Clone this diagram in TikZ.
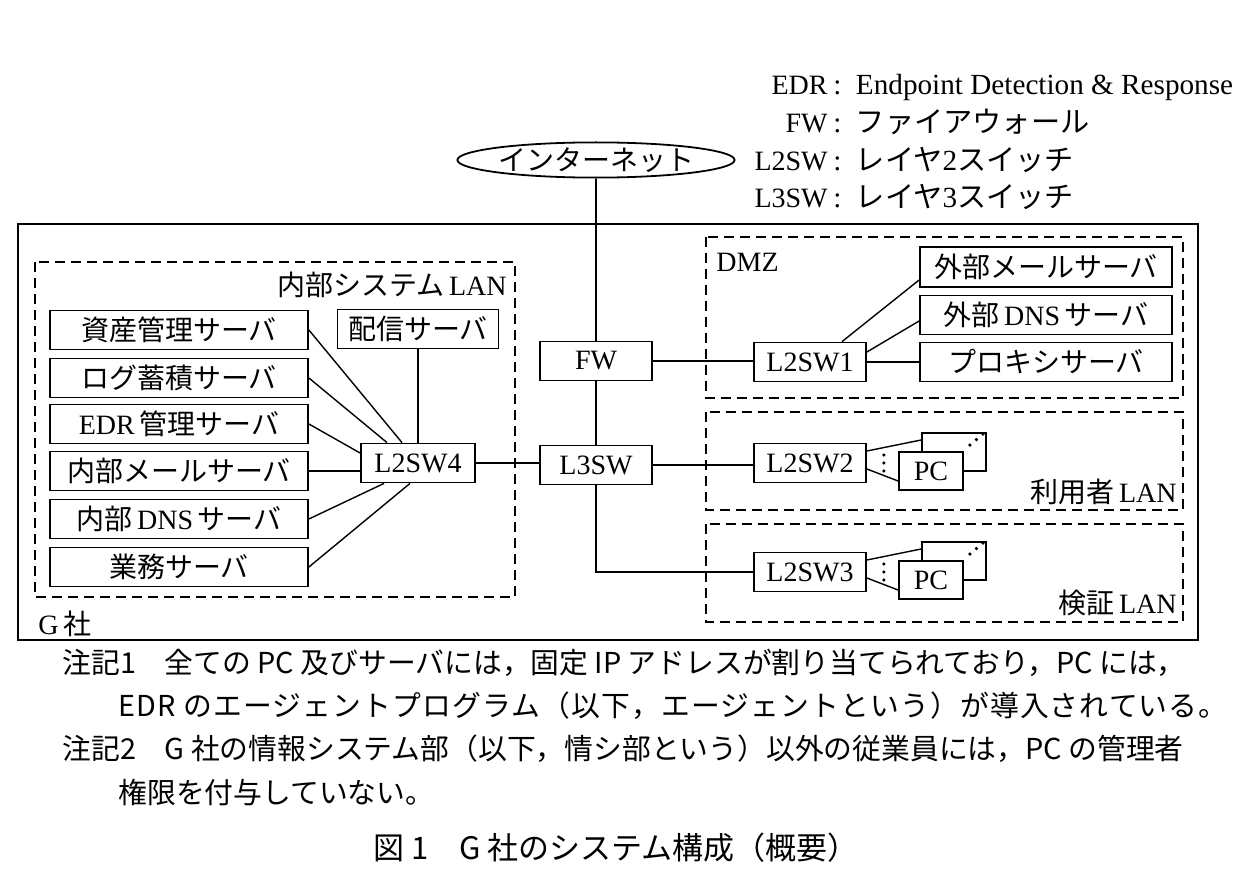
\documentclass[tikz,border=0pt]{standalone}
\usepackage{fontspec}
\setmainfont{Liberation Serif}
\newfontfamily\jpfont{Noto Sans CJK JP}
\usetikzlibrary{positioning,calc,shapes.geometric}
\newcommand{\ja}[1]{{\jpfont #1}}
\tikzset{
  devbox/.style = {draw, line width=0.9pt, fill=white, minimum width=56pt,
                   minimum height=19.5pt, inner sep=0pt},
  srvbox/.style = {devbox, minimum width=129pt},
  pcbox/.style  = {devbox, minimum width=32pt, minimum height=19pt},
  lanbox/.style = {line width=0.9pt, dash pattern=on 5pt off 3pt},
  link/.style   = {line width=0.7pt},
  dotpt/.style  = {fill, circle, inner sep=0pt, minimum size=1.8pt},
  legkey/.style = {anchor=base east, inner sep=0pt},
  legtxt/.style = {anchor=base west, inner sep=0pt, font=\fontsize{14.6}{16}\selectfont},
  note/.style   = {anchor=west, inner sep=0pt, font=\jpfont\fontsize{14.4}{16}\selectfont},
}

\begin{document}
\begin{tikzpicture}[x=0.5pt,y=-0.5pt,font=\fontsize{14}{16}\selectfont]
\useasboundingbox (0,0) rectangle (1258,888);
% legend
\node[legkey] (legA) at (828,95) {EDR};
\node[legtxt] (legAt) at (828,95) {\,:\, Endpoint Detection \& Response};
\node[legkey] (legB) at (828,133) {FW};
\node[legtxt] (legBt) at (828,133) {\,:\, \ja{ファイアウォール}};
\node[legkey] (legC) at (828,170) {L2SW};
\node[legtxt] (legCt) at (828,170) {\,:\, \ja{レイヤ}2\ja{スイッチ}};
\node[legkey] (legD) at (828,207) {L3SW};
\node[legtxt] (legDt) at (828,207) {\,:\, \ja{レイヤ}3\ja{スイッチ}};
% enclosures
\draw[line width=1.2pt] (18,224) rectangle (1198,640);
\draw[lanbox] (35,262) rectangle (515,597);
\draw[lanbox] (706,237) rectangle (1183,398);
\draw[lanbox] (706,412) rectangle (1183,510);
\draw[lanbox] (706,524) rectangle (1183,622);
\node[anchor=east,inner sep=0pt] (lanIn) at (507,285) {\ja{内部システム}\,LAN};
\node[anchor=west,inner sep=0pt] (lanDmz) at (716,262) {DMZ};
\node[anchor=east,inner sep=0pt] (lanUsr) at (1177,492) {\ja{利用者}\,LAN};
\node[anchor=east,inner sep=0pt] (lanVer) at (1177,603) {\ja{検証}\,LAN};
\node[anchor=west,inner sep=0pt] (gco) at (38,624) {G\,\ja{社}};
% core
\node[draw,ellipse,line width=0.9pt,minimum width=126pt,minimum height=17.5pt,inner sep=0pt] (inet) at (596,160) {\ja{インターネット}};
\node[devbox] (FW) at (596,361) {FW};
\node[devbox] (L3SW) at (596,465) {L3SW};
% internal system LAN
\node[srvbox] (asset) at (179,330) {\ja{資産管理サーバ}};
\node[srvbox] (logs) at (179,378) {\ja{ログ蓄積サーバ}};
\node[srvbox] (edrm) at (179,424) {EDR\,\ja{管理サーバ}};
\node[srvbox] (imail) at (179,471) {\ja{内部メールサーバ}};
\node[srvbox] (idns) at (179,519) {\ja{内部}\,DNS\,\ja{サーバ}};
\node[srvbox] (biz) at (179,567) {\ja{業務サーバ}};
\node[devbox,minimum width=80.5pt] (dist) at (418,329) {\ja{配信サーバ}};
\node[devbox,minimum width=57pt] (L2SW4) at (418,463) {L2SW4};
% DMZ
\node[devbox] (L2SW1) at (810,362) {L2SW1};
\node[srvbox,minimum width=126pt,minimum height=20pt] (email) at (1046,267) {\ja{外部メールサーバ}};
\node[srvbox,minimum width=126pt] (edns) at (1046,315) {\ja{外部}\,DNS\,\ja{サーバ}};
\node[srvbox,minimum width=126pt] (proxy) at (1046,362) {\ja{プロキシサーバ}};
% user and verification LAN
\node[devbox] (L2SW2) at (810,463) {L2SW2};
\node[pcbox] (PC2b) at (954,452) {};
\node[pcbox] (PC2) at (931,471) {PC};
\node[devbox] (L2SW3) at (810,572) {L2SW3};
\node[pcbox] (PC3b) at (954,561) {};
\node[pcbox] (PC3) at (931,580) {PC};
% connections
\draw[link] (inet.south) -- (FW.north);
\draw[link] (FW.south) -- (L3SW.north);
\draw[link] (L3SW.south) |- (L2SW3.west);
\draw[link] (FW.east) -- (FW.east -| L2SW1.west);
\draw[link] (L3SW.east) -- (L3SW.east -| L2SW2.west);
\draw[link] (L2SW4.east) -- (L2SW4.east -| L3SW.west);
\draw[link] (asset.east) -- ([xshift=-8pt]L2SW4.north);
\draw[link] (logs.east) -- ([xshift=-15.5pt]L2SW4.north);
\draw[link] (edrm.east) -- ([yshift=5pt]L2SW4.west);
\draw[link] (imail.east) -- (imail.east -| L2SW4.west);
\draw[link] (idns.east) -- ([xshift=-17pt]L2SW4.south);
\draw[link] (biz.east) -- ([xshift=-4pt]L2SW4.south);
\draw[link] (dist.south) -- (dist.south |- L2SW4.north);
\draw[link] ([xshift=16pt]L2SW1.north) -- ([yshift=-6.5pt]email.west);
\draw[link] ([yshift=5pt]L2SW1.east) -- ([yshift=-3pt]edns.west);
\draw[link] (L2SW1.east) -- (L2SW1.east -| proxy.west);
\draw[link] ([yshift=6pt]L2SW2.east) -- ([yshift=6pt]PC2b.west);
\draw[link] ([yshift=-3pt]L2SW2.east) -- ([yshift=-5pt]PC2.west);
\draw[link] ([yshift=6pt]L2SW3.east) -- ([yshift=6pt]PC3b.west);
\draw[link] ([yshift=-3pt]L2SW3.east) -- ([yshift=-5pt]PC3.west);
\foreach \pc/\sw in {PC2b/L2SW2,PC3b/L2SW3}{
  \foreach \d in {0,1,2}{
    \node[dotpt] at ($(\pc.north east)+(-17+6.5*\d,13-5.5*\d)$) {};
    \node[dotpt] at ($(\sw.east)+(17,-8+8*\d)$) {};
  }
}
% notes
\node[note] (n1a) at (62,663) {注記1　全ての PC 及びサーバには，固定 IP アドレスが割り当てられており，PC には，};
\node[note] (n1b) at (118,706) {\addfontfeature{LetterSpace=4}EDR のエージェントプログラム（以下，エージェントという）が導入されている。};
\node[note] (n2a) at (62,749) {注記2　G 社の情報システム部（以下，情シ部という）以外の従業員には，PC の管理者};
\node[note] (n2b) at (118,793) {権限を付与していない。};
\node[inner sep=0pt,font=\jpfont\fontsize{15.5}{18}\selectfont] (cap) at (616,848) {図 1　G 社のシステム構成（概要）};
\end{tikzpicture}
\end{document}
